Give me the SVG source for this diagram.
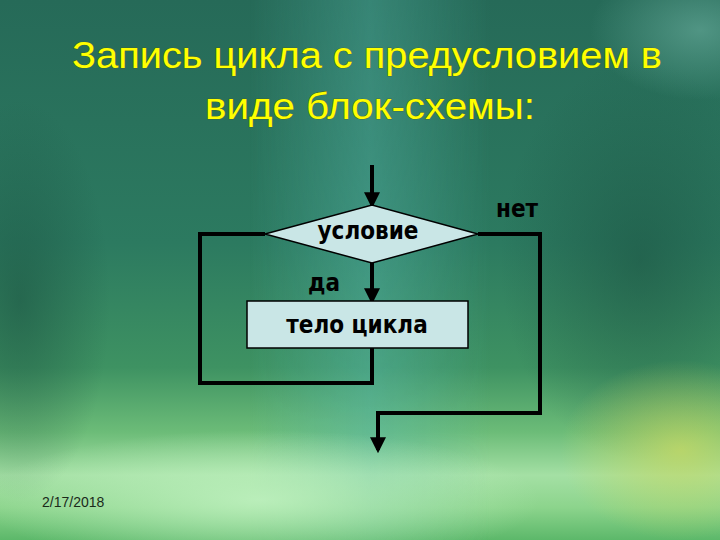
<svg xmlns="http://www.w3.org/2000/svg" width="720" height="540" viewBox="0 0 720 540">
<defs>
<linearGradient id="bgV" x1="0" y1="0" x2="0" y2="1">
<stop offset="0" stop-color="#266a58"/>
<stop offset="0.45" stop-color="#2c7a60"/>
<stop offset="0.68" stop-color="#3e9262"/>
<stop offset="0.8" stop-color="#6cbc78"/>
<stop offset="0.88" stop-color="#a4e0a4"/>
<stop offset="0.94" stop-color="#8cd48c"/>
<stop offset="1" stop-color="#5cb86a"/>
</linearGradient>
<linearGradient id="band" x1="0" y1="0" x2="1" y2="0">
<stop offset="0" stop-color="#58b8ac" stop-opacity="0"/>
<stop offset="0.5" stop-color="#58b8ac" stop-opacity="0.5"/>
<stop offset="1" stop-color="#58b8ac" stop-opacity="0"/>
</linearGradient>
<linearGradient id="bandFade" x1="0" y1="0" x2="0" y2="1">
<stop offset="0" stop-color="#fff" stop-opacity="0.7"/>
<stop offset="0.8" stop-color="#fff" stop-opacity="1"/>
<stop offset="1" stop-color="#fff" stop-opacity="0.2"/>
</linearGradient>
<mask id="bm"><rect width="720" height="540" fill="url(#bandFade)"/></mask>
<radialGradient id="glowL" cx="0.5" cy="0.5" r="0.5">
<stop offset="0" stop-color="#c4f4c4" stop-opacity="0.8"/>
<stop offset="1" stop-color="#c4f4c4" stop-opacity="0"/>
</radialGradient>
<radialGradient id="glowR" cx="0.5" cy="0.5" r="0.5">
<stop offset="0" stop-color="#c8d860" stop-opacity="0.75"/>
<stop offset="1" stop-color="#c8d860" stop-opacity="0"/>
</radialGradient>
<radialGradient id="glowT" cx="0.5" cy="0.5" r="0.5">
<stop offset="0" stop-color="#6cb0a0" stop-opacity="0.6"/>
<stop offset="1" stop-color="#6cb0a0" stop-opacity="0"/>
</radialGradient>
<radialGradient id="dark" cx="0.5" cy="0.5" r="0.5">
<stop offset="0" stop-color="#1a5040" stop-opacity="0.55"/>
<stop offset="1" stop-color="#1a5040" stop-opacity="0"/>
</radialGradient>
<marker id="arr" markerWidth="4" markerHeight="4" refX="3.2" refY="2" orient="auto" markerUnits="strokeWidth">
<path d="M0,0 L4,2 L0,4 Z" fill="#000"/>
</marker>
<style>
.title{font-family:"Liberation Sans",Arial,sans-serif;font-size:37px;fill:#ffff00;stroke:#4a5a10;stroke-width:0.6;paint-order:stroke}
.lbl{font-family:"DejaVu Sans Condensed","DejaVu Sans",Verdana,sans-serif;font-stretch:condensed;font-weight:bold;font-size:24px;fill:#000}
.shape{fill:#c9e6e6;stroke:#000;stroke-width:1.5}
.wire{fill:none;stroke:#000;stroke-width:4}
.date{font-family:"Liberation Sans",Arial,sans-serif;font-size:14px;fill:#1a2a1a}
</style>
</defs>
<rect width="720" height="540" fill="url(#bgV)"/>
<rect x="250" y="0" width="240" height="540" fill="url(#band)" mask="url(#bm)"/>
<ellipse cx="20" cy="300" rx="90" ry="200" fill="url(#dark)"/>
<ellipse cx="640" cy="260" rx="140" ry="200" fill="url(#dark)"/>
<ellipse cx="260" cy="500" rx="280" ry="70" fill="url(#glowL)"/>
<ellipse cx="680" cy="450" rx="120" ry="90" fill="url(#glowR)"/>
<ellipse cx="700" cy="30" rx="110" ry="70" fill="url(#glowT)"/>

<text class="title" x="72" y="68" textLength="590" lengthAdjust="spacingAndGlyphs">Запись цикла с предусловием в</text>
<text class="title" x="205" y="119" textLength="330" lengthAdjust="spacingAndGlyphs">виде блок-схемы:</text>

<g id="connectors">
<line class="wire" x1="372" y1="165" x2="372" y2="205" marker-end="url(#arr)"/>
<line class="wire" x1="372" y1="263" x2="372" y2="301" marker-end="url(#arr)"/>
<polyline class="wire" points="265,234 200,234 200,383 372,383 372,348"/>
<polyline class="wire" points="478,234 540,234 540,413 378,413 378,450" marker-end="url(#arr)"/>
</g>

<g id="condition">
<polygon class="shape" points="265,234 372,205 478,234 372,263"/>
<text class="lbl" x="368" y="239" text-anchor="middle">условие</text>
</g>
<g id="body">
<rect class="shape" x="247" y="301" width="221" height="47"/>
<text class="lbl" x="357" y="333" text-anchor="middle">тело цикла</text>
</g>
<g id="labels">
<text class="lbl" x="308" y="291">да</text>
<text class="lbl" x="496" y="217">нет</text>
</g>
<text class="date" x="42" y="507">2/17/2018</text>
</svg>
